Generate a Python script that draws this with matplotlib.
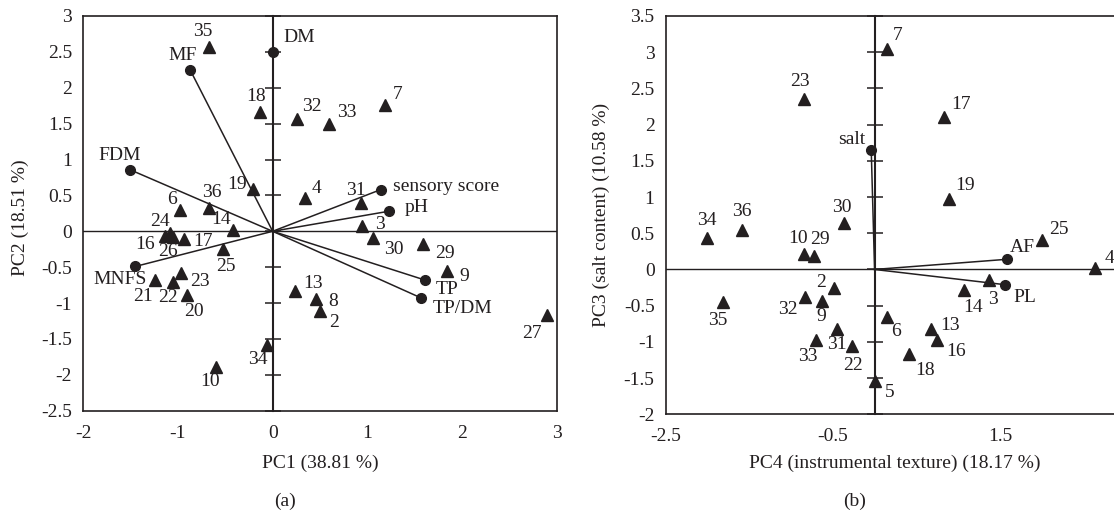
import matplotlib
matplotlib.use('Agg')
import matplotlib.pyplot as plt
import numpy as np

plt.rcParams['font.family'] = ['Liberation Serif', 'DejaVu Serif']

# ---------------- Panel (a) data: PC1 vs PC2 ----------------
a_ids = ['35', '18', '32', '33', '7', '19', '4', '36', '6', '14', '24', '16', '26', '17',
         '25', '21', '22', '23', '20', '13', '8', '2', '34', '10', '31', '3', '30', '29',
         '9', '27']
a_x = [-0.67, -0.13, 0.26, 0.60, 1.19, -0.21, 0.34, -0.67, -0.98, -0.42, -1.08, -1.14,
       -1.05, -0.94, -0.52, -1.24, -1.05, -0.97, -0.91, 0.24, 0.46, 0.50, -0.06, -0.60,
       0.93, 0.94, 1.06, 1.59, 1.84, 2.90]
a_y = [2.57, 1.66, 1.57, 1.50, 1.76, 0.59, 0.46, 0.33, 0.30, 0.02, -0.03, -0.07, -0.08,
       -0.11, -0.25, -0.68, -0.71, -0.58, -0.89, -0.83, -0.95, -1.11, -1.59, -1.89,
       0.39, 0.07, -0.09, -0.18, -0.55, -1.17]
a_vars = ['DM', 'MF', 'FDM', 'MNFS', 'sensory score', 'pH', 'TP', 'TP/DM']
a_vx = [0.0, -0.87, -1.51, -1.45, 1.14, 1.23, 1.61, 1.57]
a_vy = [2.50, 2.245, 0.86, -0.49, 0.58, 0.28, -0.68, -0.93]
a_xticks = [-2, -1, 0, 1, 2, 3]
a_yticks = [-2.5, -2, -1.5, -1, -0.5, 0, 0.5, 1, 1.5, 2, 2.5, 3]

# ---------------- Panel (b) data: PC4 vs PC3 ----------------
b_ids = ['7', '23', '17', '19', '34', '36', '30', '10', '29', '25', '4', '2', '32', '9',
         '35', '3', '14', '6', '31', '33', '22', '13', '16', '18', '5']
b_x = [0.15, -0.84, 0.83, 0.89, -2.00, -1.59, -0.37, -0.85, -0.72, 2.00, 2.64, -0.48,
       -0.83, -0.63, -1.82, 1.37, 1.07, 0.15, -0.45, -0.70, -0.27, 0.67, 0.75, 0.41, 0.01]
b_y = [3.05, 2.36, 2.11, 0.97, 0.44, 0.55, 0.64, 0.22, 0.19, 0.40, 0.02, -0.25, -0.38,
       -0.43, -0.45, -0.15, -0.29, -0.65, -0.82, -0.98, -1.06, -0.82, -0.97, -1.17, -1.54]
b_vars = ['salt', 'AF', 'PL']
b_vx = [-0.04, 1.58, 1.56]
b_vy = [1.65, 0.14, -0.21]
b_xticks = [-2.5, -0.5, 1.5]
b_yticks = [-2, -1.5, -1, -0.5, 0, 0.5, 1, 1.5, 2, 2.5, 3, 3.5]

# ---------------- label offsets (pixels) ----------------
a_off = {'35': (-6, 15), 'MF': (-8, 15), 'DM': (27, 14), '18': (-4, 16), '32': (15, 12),
         '33': (17, 11), 'FDM': (-10, 14), '19': (-16, 4), '4': (12, 10), '36': (3, 15),
         '6': (-8, 10), '14': (-12, 10), '24': (-10, 12), '16': (-20, -8), '26': (-5, -14),
         '17': (19, -2), '25': (2, -17), 'MNFS': (-15, -13), '21': (-12, -16),
         '22': (-5, -15), '23': (19, -9), '20': (7, -16), '13': (18, 7), '8': (17, -2),
         '2': (14, -12), '34': (-9, -14), '10': (-6, -15), 'sensory score': (12, 3, 'left'),
         'pH': (16, 4, 'left'), '31': (-5, 13), '3': (18, 2), '30': (21, -12),
         '29': (22, -9), '7': (12, 10), '9': (17, -6), 'TP': (22, -9),
         'TP/DM': (11, -10, 'left'), '27': (-15, -18)}
b_off = {'7': (11, 13), '23': (-4, 17), '17': (17, 12), '19': (16, 14), '34': (-1, 17),
         '36': (0, 18), '30': (-2, 16), '10': (-6, 15), '29': (6, 16), '25': (17, 11),
         '4': (14, 10), '2': (-13, 5), '32': (-17, -13), '9': (-1, -16), '35': (-5, -18),
         '3': (4, -19), '14': (9, -17), '6': (9, -15), '31': (0, -16), '33': (-8, -16),
         '22': (1, -19), '13': (19, 3), '16': (19, -12), '18': (16, -16), '5': (14, -12),
         'salt': (-6, 10, 'right'), 'AF': (16, 12), 'PL': (20, -13)}

W, H = 1114, 515
fig = plt.figure(figsize=(W / 100, H / 100), dpi=100)

FS = 14


def fmt(v):
    return f'{v:g}'


def label(ax, txt, x, y, offs):
    o = offs.get(txt, (0, 12))
    ha = o[2] if len(o) > 2 else 'center'
    ax.annotate(txt, (x, y), xytext=(o[0], o[1]), textcoords='offset pixels',
                ha=ha, va='center', fontsize=FS, color='#231f20')


def panel(ax, ids, xs, ys, vars_, vx, vy, offs, xlim, ylim, xticks, yticks):
    ax.set_xlim(*xlim)
    ax.set_ylim(*ylim)
    ax.set_xticks(xticks)
    ax.set_xticklabels([fmt(v) for v in xticks])
    ax.set_yticks(yticks)
    ax.set_yticklabels([fmt(v) for v in yticks])
    ax.tick_params(axis='both', length=0, labelsize=FS, colors='#231f20')
    ax.tick_params(axis='x', pad=10)
    ax.tick_params(axis='y', pad=8)
    for s in ax.spines.values():
        s.set_linewidth(1.2)
        s.set_color('#231f20')
    ax.axhline(0, color='#231f20', lw=1.0, zorder=1)
    sec = ax.secondary_yaxis(0, transform=ax.transData)
    sec.set_yticks(yticks)
    sec.tick_params(direction='inout', length=12, width=1.1, labelleft=False,
                    labelright=False, color='#231f20')
    for s in sec.spines.values():
        s.set_linewidth(1.5)
        s.set_color('#231f20')
    for name, x, y in zip(vars_, vx, vy):
        ax.plot([0, x], [0, y], color='#231f20', lw=1.1, zorder=2)
        ax.plot([x], [y], 'o', color='#231f20', ms=7, zorder=3)
        label(ax, name, x, y, offs)
    ax.plot(xs, ys, '^', color='#231f20', ms=8.5, zorder=3, linestyle='none')
    for name, x, y in zip(ids, xs, ys):
        label(ax, name, x, y, offs)


ax1 = fig.add_axes([83.3 / W, 1 - 410.7 / H, 473.4 / W, 394.7 / H])
panel(ax1, a_ids, a_x, a_y, a_vars, a_vx, a_vy, a_off, (-2, 3), (-2.5, 3),
      a_xticks, a_yticks)

ax2 = fig.add_axes([665.7 / W, 1 - 414.3 / H, (1167 - 665.7) / W, 398.3 / H])
panel(ax2, b_ids, b_x, b_y, b_vars, b_vx, b_vy, b_off, (-2.5, 3.5), (-2, 3.5),
      b_xticks, b_yticks)

tc = '#231f20'
fig.text(320 / W, 1 - 463 / H, 'PC1 (38.81 %)', ha='center', va='center', fontsize=FS, color=tc)
fig.text(895 / W, 1 - 463 / H, 'PC4 (instrumental texture) (18.17 %)', ha='center',
         va='center', fontsize=FS, color=tc)
fig.text(20 / W, 1 - 218 / H, 'PC2 (18.51 %)', ha='center', va='center', rotation=90,
         fontsize=FS, color=tc)
fig.text(601 / W, 1 - 215 / H, 'PC3 (salt content) (10.58 %)', ha='center', va='center',
         rotation=90, fontsize=FS, color=tc)
fig.text(285 / W, 1 - 501 / H, '(a)', ha='center', va='center', fontsize=FS, color=tc)
fig.text(855 / W, 1 - 501 / H, '(b)', ha='center', va='center', fontsize=FS, color=tc)

fig.savefig('out.png', dpi=100)
